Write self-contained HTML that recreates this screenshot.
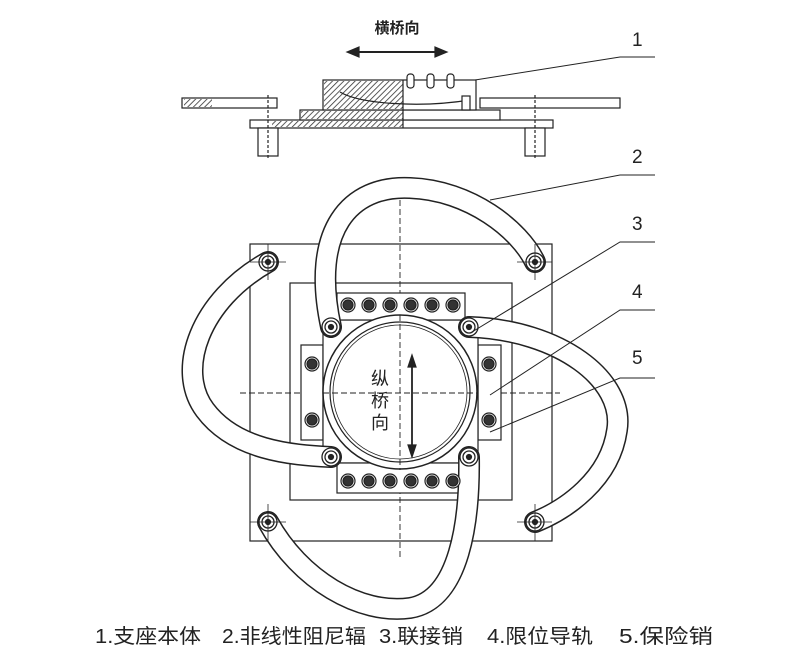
<!DOCTYPE html>
<html><head><meta charset="utf-8"><style>
html,body{margin:0;padding:0;background:#fff;width:796px;height:664px;overflow:hidden}
svg{display:block}
text{font-family:"Liberation Sans","Noto Sans CJK SC",sans-serif;fill:#222}
</style></head><body>
<svg width="796" height="664" viewBox="0 0 796 664" xmlns="http://www.w3.org/2000/svg">
<defs>
<pattern id="h" width="4" height="4" patternUnits="userSpaceOnUse" patternTransform="rotate(45)">
<rect width="4" height="4" fill="#fff"/><line x1="0" y1="0" x2="0" y2="4" stroke="#333" stroke-width="1.6"/></pattern>
<g id="anc"><circle r="9" fill="#fff" stroke="#222" stroke-width="1.3"/><circle r="6" fill="#fff" stroke="#222" stroke-width="1.3"/><circle r="2.5" fill="#222"/></g>
<g id="bolt"><circle r="7" fill="#fff" stroke="#222" stroke-width="1.2"/><circle r="5" fill="#333"/></g>
</defs>
<g stroke="#222" fill="none" stroke-width="1.2">
<text x="397" y="33" font-size="15" font-weight="bold" text-anchor="middle" stroke="none">横桥向</text>
<line x1="355" y1="52" x2="440" y2="52" stroke-width="2"/>
<path d="M347,52 l12,-5 v10z M447,52 l-12,-5 v10z" fill="#222"/>
<rect x="182" y="98" width="95" height="10" fill="#fff"/>
<rect x="184" y="99" width="28" height="8" fill="url(#h)" stroke="none"/>
<rect x="480" y="98" width="140" height="10" fill="#fff"/>
<rect x="250" y="120" width="303" height="8" fill="#fff"/>
<rect x="272" y="121" width="131" height="6" fill="url(#h)" stroke="none"/>
<rect x="300" y="110" width="200" height="10" fill="#fff"/>
<rect x="301" y="111" width="102" height="8" fill="url(#h)" stroke="none"/>
<rect x="323" y="80" width="153" height="30" fill="#fff"/>
<rect x="324" y="81" width="79" height="28" fill="url(#h)" stroke="none"/>
<path d="M340,92 C360,104 420,108 470,100"/>
<line x1="403" y1="80" x2="403" y2="128"/>
<rect x="258" y="128" width="20" height="28" fill="#fff"/>
<rect x="525" y="128" width="20" height="28" fill="#fff"/>
<line x1="268" y1="95" x2="268" y2="160" stroke-dasharray="3,2"/>
<line x1="535" y1="95" x2="535" y2="160" stroke-dasharray="3,2"/>
<rect x="407" y="74" width="7" height="14" rx="3" fill="#fff"/>
<rect x="427" y="74" width="7" height="14" rx="3" fill="#fff"/>
<rect x="447" y="74" width="7" height="14" rx="3" fill="#fff"/>
<rect x="462" y="96" width="8" height="14" fill="#fff"/>
<rect x="250" y="244" width="302" height="297"/>
<rect x="290" y="283" width="222" height="217"/>
<line x1="400" y1="200" x2="400" y2="560" stroke-dasharray="6,3" stroke-width="0.9"/>
<line x1="240" y1="393" x2="560" y2="393" stroke-dasharray="6,3" stroke-width="0.9"/>
<rect x="301" y="345" width="22" height="95" fill="#fff"/>
<rect x="478" y="345" width="23" height="95" fill="#fff"/>
<rect x="323" y="320" width="155" height="143" fill="#fff"/>
<rect x="337" y="293" width="128" height="27" fill="#fff"/>
<rect x="337" y="463" width="128" height="30" fill="#fff"/>
<circle cx="400" cy="392" r="77" fill="#fff" stroke-width="1.5"/>
<circle cx="400" cy="392" r="70" stroke-width="1.2"/>
<circle cx="400" cy="392" r="67" stroke-width="0.8"/>
<line x1="400" y1="315" x2="400" y2="470" stroke-dasharray="6,3" stroke-width="0.9"/>
<line x1="323" y1="393" x2="478" y2="393" stroke-dasharray="6,3" stroke-width="0.9"/>
<g stroke-linecap="round">
<path d="M331,327 C310,230 350,185 410,188 C470,190 520,230 535,262" stroke="#222" stroke-width="22"/>
<path d="M331,327 C310,230 350,185 410,188 C470,190 520,230 535,262" stroke="#fff" stroke-width="19"/>
<path d="M268,262 C200,300 175,370 205,410 C235,450 290,455 331,457" stroke="#222" stroke-width="22"/>
<path d="M268,262 C200,300 175,370 205,410 C235,450 290,455 331,457" stroke="#fff" stroke-width="19"/>
<path d="M469,327 C560,330 625,380 617,430 C610,480 565,510 535,522" stroke="#222" stroke-width="22"/>
<path d="M469,327 C560,330 625,380 617,430 C610,480 565,510 535,522" stroke="#fff" stroke-width="19"/>
<path d="M268,522 C300,580 360,615 410,608 C460,600 470,520 469,457" stroke="#222" stroke-width="22"/>
<path d="M268,522 C300,580 360,615 410,608 C460,600 470,520 469,457" stroke="#fff" stroke-width="19"/>
</g>
<use href="#anc" x="268" y="262"/><use href="#anc" x="535" y="262"/>
<use href="#anc" x="268" y="522"/><use href="#anc" x="535" y="522"/>
<use href="#anc" x="331" y="327"/><use href="#anc" x="469" y="327"/>
<use href="#anc" x="331" y="457"/><use href="#anc" x="469" y="457"/>
<g stroke-width="0.8"><line x1="250" y1="262" x2="286" y2="262"/><line x1="268" y1="244" x2="268" y2="280"/>
<line x1="517" y1="262" x2="552" y2="262"/><line x1="535" y1="244" x2="535" y2="280"/>
<line x1="250" y1="522" x2="286" y2="522"/><line x1="268" y1="504" x2="268" y2="541"/>
<line x1="517" y1="522" x2="552" y2="522"/><line x1="535" y1="504" x2="535" y2="541"/></g>
<use href="#bolt" x="348" y="305"/><use href="#bolt" x="369" y="305"/><use href="#bolt" x="390" y="305"/><use href="#bolt" x="411" y="305"/><use href="#bolt" x="432" y="305"/><use href="#bolt" x="453" y="305"/>
<use href="#bolt" x="348" y="481"/><use href="#bolt" x="369" y="481"/><use href="#bolt" x="390" y="481"/><use href="#bolt" x="411" y="481"/><use href="#bolt" x="432" y="481"/><use href="#bolt" x="453" y="481"/>
<use href="#bolt" x="312" y="364"/><use href="#bolt" x="312" y="420"/><use href="#bolt" x="489" y="364"/><use href="#bolt" x="489" y="420"/>
<line x1="412" y1="362" x2="412" y2="450" stroke-width="1.8"/>
<path d="M412,355 l-4,12 h8z M412,457 l-4,-12 h8z" fill="#222"/>
<text x="380" y="385" font-size="18" text-anchor="middle" stroke="none">纵</text>
<text x="380" y="407" font-size="18" text-anchor="middle" stroke="none">桥</text>
<text x="380" y="429" font-size="18" text-anchor="middle" stroke="none">向</text>
<g stroke-width="1">
<polyline points="475,80 620,57 655,57"/>
<polyline points="490,200 620,175 655,175"/>
<polyline points="472,332 620,242 655,242"/>
<polyline points="490,395 620,310 655,310"/>
<polyline points="490,432 620,378 655,378"/>
</g>
</g>
<g font-size="19" stroke="none">
<text x="632" y="46">1</text><text x="632" y="163">2</text><text x="632" y="230">3</text><text x="632" y="298">4</text><text x="632" y="364">5</text>
</g>
<g font-size="20" stroke="none">
<text x="95" y="643" textLength="106" lengthAdjust="spacingAndGlyphs">1.支座本体</text>
<text x="222" y="643" textLength="144" lengthAdjust="spacingAndGlyphs">2.非线性阻尼辐</text>
<text x="379" y="643" textLength="84" lengthAdjust="spacingAndGlyphs">3.联接销</text>
<text x="487" y="643" textLength="106" lengthAdjust="spacingAndGlyphs">4.限位导轨</text>
<text x="619" y="643" textLength="94" lengthAdjust="spacingAndGlyphs">5.保险销</text>
</g>
</svg>
</body></html>
